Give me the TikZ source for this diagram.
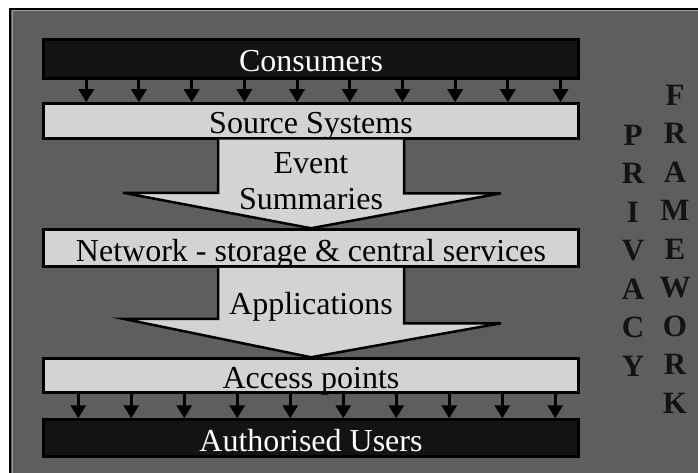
\documentclass[tikz,border=0pt]{standalone}
\usepackage{fontspec}
\setmainfont{Liberation Serif}
\usepackage{tikz}
\usetikzlibrary{arrows.meta, positioning}
\definecolor{panelgrey}{HTML}{5E5E5E}
\definecolor{barlight}{HTML}{D3D3D3}
\definecolor{bardark}{HTML}{131313}
\definecolor{rimgrey}{HTML}{9A9A9A}

\begin{document}
\begin{tikzpicture}[
  x=1pt, y=1pt,
  darkbar/.style={rectangle, draw=black, fill=bardark, line width=2.5pt,
                  minimum width=535pt, inner sep=0pt, text=white,
                  text height=26pt, text depth=0pt,
                  font=\fontsize{32}{36}\selectfont},
  lightbar/.style={rectangle, draw=black, fill=barlight, line width=2.5pt,
                  minimum width=535pt, inner sep=0pt,
                  text height=26pt, text depth=0pt,
                  font=\fontsize{32}{36}\selectfont},
  blockarrow/.style={draw=black, fill=barlight, line width=2.5pt, line join=miter},
  tick/.style={-{Triangle[length=13pt,width=15pt]}, line width=3pt, black},
  caption/.style={inner sep=0pt, align=center, font=\fontsize{32}{36}\selectfont},
  letters/.style={inner sep=0pt, align=center, text=bardark,
                  font=\fontsize{31}{38.5}\selectfont\bfseries},
]
  \useasboundingbox (0,0) rectangle (698,472);
  % Panel
  \fill[white] (0,0) rectangle (698,472);
  \draw[fill=panelgrey, line width=2pt] (10,-10) rectangle (710,463);
  \draw[rimgrey, line width=1pt] (12,-10) rectangle (710,461);

  % Bars
  \node[darkbar, minimum height=39pt]  (consumers) at (311,413)   {Consumers};
  \node[lightbar, minimum height=35pt] (source)    at (311,351)   {Source Systems};
  \node[lightbar, minimum height=37pt] (network)   at (311,224)   {Network - storage \& central services};
  \node[lightbar, minimum height=34pt] (access)    at (311,96.5)  {Access points};
  \node[darkbar, minimum height=37pt]  (users)     at (311,34)    {Authorised Users};

  % Block arrows
  \draw[blockarrow] ([xshift=-93pt]source.south) -- ++(0,-53) -- ++(-95,0)
    -- (network.north) -- ++(190,35) -- ++(-97,0) -- ([xshift=93pt]source.south);
  \draw[blockarrow] ([xshift=-93pt]network.south) -- ++(0,-51) -- ++(-95,0)
    -- (access.north) -- ++(190,34) -- ++(-97,0) -- ([xshift=93pt]network.south);
  \node[caption] (events) at (311,291) {Event\\Summaries};
  \node[caption, anchor=base] (apps) at (311,158) {Applications};

  % Feeds
  \foreach \i in {0,...,9}
    \draw[tick] ([xshift={44pt+52.7pt*\i}]consumers.south west)
      -- ([xshift={44pt+52.7pt*\i}]source.north west);
  \foreach \i in {0,...,9}
    \draw[tick] ([xshift={36pt+53pt*\i}]access.south west)
      -- ([xshift={36pt+53pt*\i}]users.north west);

  % Side banner
  \node[letters] (privacy)   at (633,221.5) {P\\R\\I\\V\\A\\C\\Y};
  \node[letters] (framework) at (675,223)   {F\\R\\A\\M\\E\\W\\O\\R\\K};
\end{tikzpicture}
\end{document}
